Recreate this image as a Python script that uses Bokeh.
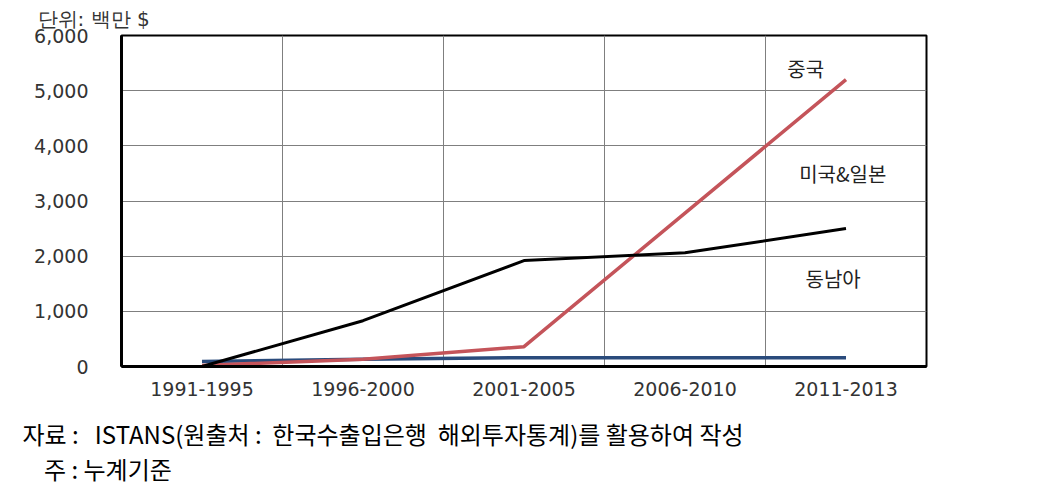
from bokeh.plotting import figure
from bokeh.models import FixedTicker, Range1d, Label, Title
from bokeh.embed import file_html
from bokeh.resources import INLINE

periods = ["1991-1995", "1996-2000", "2001-2005", "2006-2010", "2011-2013"]
usjp = [0, 830, 1920, 2060, 2500]
china = [20, 130, 360, 2780, 5200]
sea = [90, 130, 160, 160, 160]
y_ticks = [0, 1000, 2000, 3000, 4000, 5000, 6000]
series_labels = ["중국", "미국&일본", "동남아"]
NB = "\u00a0"
unit_text = f"단위:{NB}백만{NB}$"
note1 = f"자료{NB}:{NB}{NB}{NB}ISTANS(원출처{NB}:{NB}{NB}한국수출입은행{NB}{NB}해외투자통계)를{NB}활용하여{NB}작성"
note2 = f"{NB*4}주{NB}:{NB}누계기준"

xs = [i + 0.5 for i in range(len(periods))]

FL, FR, FT, FB = 121, 926, 35, 366  # frame edges in pixels
W, H = 1062, 501
p = figure(width=W, height=H, output_backend="svg", toolbar_location=None,
           x_range=Range1d(0, len(periods)), y_range=Range1d(0, 6000),
           min_border_left=FL, min_border_right=W - FR, min_border_top=FT,
           min_border_bottom=H - FB)

p.background_fill_color = "white"
p.border_fill_color = "white"
p.outline_line_color = "black"
p.outline_line_width = 2

# grids
p.xgrid.ticker = FixedTicker(ticks=list(range(1, len(periods))))
p.xgrid.grid_line_color = "#7f7f7f"
p.xgrid.grid_line_width = 1
p.ygrid.ticker = FixedTicker(ticks=y_ticks)
p.ygrid.grid_line_color = "#7f7f7f"
p.ygrid.grid_line_width = 1

# axes
p.xaxis.ticker = FixedTicker(ticks=xs)
p.xaxis.major_label_overrides = {x: lab for x, lab in zip(xs, periods)}
p.yaxis.ticker = FixedTicker(ticks=y_ticks)
p.yaxis.major_label_overrides = {t: f"{t:,}" for t in y_ticks}
for ax in (p.xaxis[0], p.yaxis[0]):
    ax.axis_line_color = "black"
    ax.axis_line_width = 3
    ax.major_tick_line_color = None
    ax.minor_tick_line_color = None
    ax.major_label_text_font = "DejaVu Sans"
    ax.major_label_text_font_size = "19px"
    ax.major_label_text_color = "#333333"
p.yaxis.major_label_standoff = 27
p.xaxis.major_label_standoff = 9

# lines
p.line(xs, sea, line_color="#2a4b7c", line_width=3.5)
p.line(xs, china, line_color="#c4545a", line_width=3.5)
p.line(xs, usjp, line_color="black", line_width=3)

# series labels
lab_pos = [(4.25, 5400), (4.48, 3500), (4.42, 1590)]
for txt, (lx, ly) in zip(series_labels, lab_pos):
    p.add_layout(Label(x=lx, y=ly, text=txt, text_align="center",
                       text_baseline="middle", text_font="Noto Sans CJK KR",
                       text_font_size="20px", text_color="#222222"))

# unit title
p.add_layout(Title(text=unit_text, align="left", offset=-84, standoff=9,
                   text_font="DejaVu Sans", text_font_size="20px",
                   text_font_style="normal", text_color="#333333"), "above")

# footnotes (two lines in one title)
p.add_layout(Title(text=note1 + "\n" + note2, align="left", offset=-99, standoff=30,
                   text_font="Noto Sans CJK KR", text_font_size="24px",
                   text_line_height=1.0,
                   text_font_style="normal", text_color="black"), "below")

open("out.html", "w").write(file_html(p, INLINE))
